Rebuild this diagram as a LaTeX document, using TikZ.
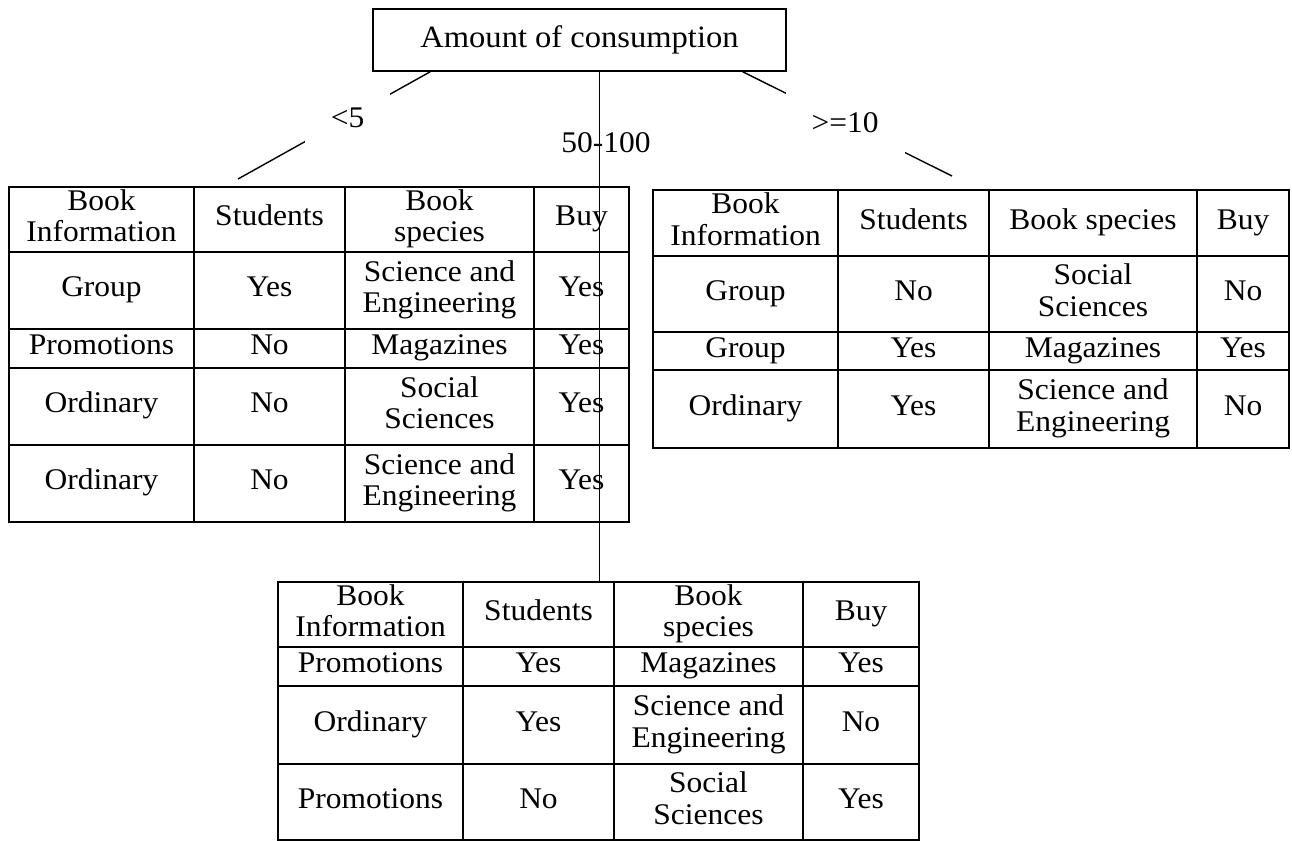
\documentclass[tikz,border=0pt]{standalone}
\usepackage{fontspec}
\setmainfont{Liberation Serif}[FakeStretch=1.05]
\usetikzlibrary{matrix}

\newcommand{\twolines}[2]{\begin{tabular}{@{}c@{}}#1\\#2\end{tabular}}

\tikzset{
  rootbox/.style={draw, minimum width=413pt, minimum height=62pt, inner sep=0pt,
    font=\fontsize{31}{36}\selectfont},
  booktable/.style={matrix of nodes, anchor=north west, inner sep=0pt, outer sep=0pt,
    column sep=-2pt, row sep=-2pt,
    nodes={draw, line width=2pt, anchor=center, inner sep=0pt,
      font=\fontsize{30}{31.5}\selectfont, execute at begin node=\strut}},
  widths/.style n args={4}{column 1/.style={nodes={minimum width=#1}},
    column 2/.style={nodes={minimum width=#2}},
    column 3/.style={nodes={minimum width=#3}},
    column 4/.style={nodes={minimum width=#4}}},
  rowh/.style 2 args={row #1/.style={nodes={minimum height=#2}}},
  branch/.style={fill=white, inner xsep=26pt, inner ysep=22pt,
    font=\fontsize{30}{35}\selectfont},
  branchtext/.style={inner sep=0pt, font=\fontsize{30}{35}\selectfont}
}

\begin{document}
\begin{tikzpicture}[x=1pt, y=-1pt, line width=1.4pt]
\useasboundingbox (0,0) rectangle (1292,840);

\node (top) at (579.5,40) [rootbox] {Amount of consumption};

% <5
\matrix (t1) at (8,186) [booktable, widths={185pt}{151pt}{189pt}{95pt},
  rowh={1}{65pt}, rowh={2}{77pt}, rowh={3}{39pt}, rowh={4}{77pt}, rowh={5}{77pt}] {
  \twolines{Book}{Information} & Students & \twolines{Book}{species} & Buy \\
  Group & Yes & \twolines{Science and}{Engineering} & Yes \\
  Promotions & No & Magazines & Yes \\
  Ordinary & No & \twolines{Social}{Sciences} & Yes \\
  Ordinary & No & \twolines{Science and}{Engineering} & Yes \\
};

% >=10
\matrix (t2) at (652,189) [booktable, widths={185pt}{151pt}{208pt}{92pt},
  rowh={1}{66pt}, rowh={2}{76pt}, rowh={3}{38pt}, rowh={4}{78pt}] {
  \twolines{Book}{Information} & Students & Book species & Buy \\
  Group & No & \twolines{Social}{Sciences} & No \\
  Group & Yes & Magazines & Yes \\
  Ordinary & Yes & \twolines{Science and}{Engineering} & No \\
};

% 50-100
\matrix (t3) at (277,581) [booktable, widths={185pt}{151pt}{189pt}{116pt},
  rowh={1}{65pt}, rowh={2}{39pt}, rowh={3}{78pt}, rowh={4}{76pt}] {
  \twolines{Book}{Information} & Students & \twolines{Book}{species} & Buy \\
  Promotions & Yes & Magazines & Yes \\
  Ordinary & Yes & \twolines{Science and}{Engineering} & No \\
  Promotions & No & \twolines{Social}{Sciences} & Yes \\
};

\coordinate (e1) at (238,179);
\coordinate (e2) at (952,176);
\draw [-] (top.192) to node [branch, pos=.43] (l1) {<5} (e1);
\draw [-] (top.349) to node [branch, pos=.49] (l2) {>=10} (e2);
\node (l3) at (606,143) [branchtext] {50-100};
\draw [-] (top.302) to (top.302 |- t3.north);
\end{tikzpicture}
\end{document}
